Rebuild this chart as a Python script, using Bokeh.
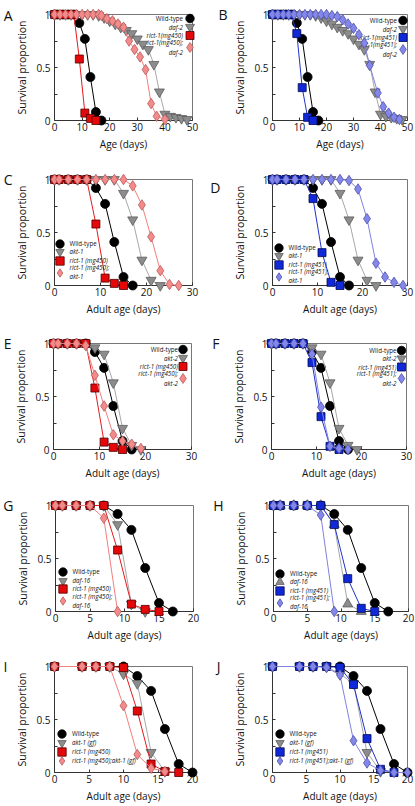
from bokeh.plotting import figure
from bokeh.models import (Range1d, LinearAxis, FixedTicker, Legend, LegendItem,
                          Label, ColumnDataSource)
from bokeh.core.properties import value
from bokeh.layouts import column, row
from bokeh.embed import file_html
from bokeh.resources import INLINE

# ------------------------------------------------------------------ data
wt_days = [0, 1, 3, 5, 7, 9, 11, 13, 15, 17]
wt_surv = [1, 1, 1, 1, 1, 0.92, 0.77, 0.41, 0.08, 0.0]
mg450_days = [0, 1, 3, 5, 7, 9, 11, 13, 15]
mg450_surv = [1, 1, 1, 1, 1, 0.58, 0.07, 0.02, 0.0]
mg451_days = [0, 1, 3, 5, 7, 9, 11, 13, 15]
mg451_surv = [1, 1, 1, 1, 1, 0.82, 0.31, 0.03, 0.0]

daf2_days = [0, 2, 4, 6, 8, 10, 12, 14, 16, 18, 20, 22, 24, 26, 28, 30, 32, 34, 36, 38, 40, 42, 44, 46, 48]
daf2_surv = [1, 1, 1, 1, 1, 1, 1, 1, 0.99, 0.97, 0.94, 0.91, 0.88, 0.85, 0.82, 0.77, 0.72, 0.67, 0.53, 0.27, 0.06, 0.04, 0.03, 0.02, 0.01]
mg450_daf2_days = [0, 2, 4, 6, 8, 10, 12, 14, 16, 17, 19, 21, 23, 25, 27, 29, 31, 33, 35, 37, 40]
mg450_daf2_surv = [1, 1, 1, 1, 1, 1, 1, 1, 1, 0.99, 0.96, 0.94, 0.91, 0.88, 0.75, 0.67, 0.6, 0.48, 0.16, 0.04, 0.01]
mg451_daf2_days = [0, 2, 4, 6, 8, 10, 12, 14, 16, 18, 20, 22, 24, 26, 28, 30, 32, 34, 36, 39, 41, 43, 45, 47]
mg451_daf2_surv = [1, 1, 1, 1, 1, 1, 1, 1, 1, 1, 1, 0.99, 0.98, 0.95, 0.91, 0.87, 0.81, 0.73, 0.52, 0.26, 0.13, 0.07, 0.03, 0.01]

akt1_days = [0, 1, 3, 5, 7, 9, 11, 13, 15, 17, 19, 21, 23]
akt1_surv = [1, 1, 1, 1, 1, 1, 1, 1, 0.87, 0.62, 0.24, 0.05, 0.0]
mg450_akt1_days = [0, 1, 3, 5, 7, 9, 11, 13, 15, 17, 19, 21, 23, 25, 27]
mg450_akt1_surv = [1, 1, 1, 1, 1, 1, 1, 1, 1, 0.94, 0.76, 0.46, 0.14, 0.01, 0.0]
mg451_akt1_days = [0, 1, 3, 5, 7, 9, 11, 13, 15, 17, 19, 21, 23, 25, 27, 29]
mg451_akt1_surv = [1, 1, 1, 1, 1, 1, 1, 1, 1, 0.99, 0.91, 0.63, 0.21, 0.08, 0.03, 0.0]

akt2_days = [0, 1, 3, 5, 7, 9, 11, 13, 15, 17, 19]
akt2_surv = [1, 1, 1, 1, 1, 0.96, 0.9, 0.63, 0.2, 0.04, 0.0]
mg450_akt2_days = [0, 1, 3, 5, 7, 9, 11, 13, 15, 17, 19]
mg450_akt2_surv = [1, 1, 1, 1, 0.98, 0.7, 0.41, 0.14, 0.08, 0.05, 0.01]
mg451_akt2_days = [0, 1, 3, 5, 7, 9, 11, 13, 15, 17]
mg451_akt2_surv = [1, 1, 1, 1, 1, 0.9, 0.4, 0.03, 0.01, 0.0]

daf16_days = [0, 1, 3, 5, 7, 9, 11, 13]
daf16_surv = [1, 1, 1, 1, 1, 0.82, 0.07, 0.0]
mg450_daf16_days = [0, 1, 3, 5, 7, 9]
mg450_daf16_surv = [1, 1, 1, 1, 0.88, 0.0]
mg451_daf16_days = [0, 1, 3, 5, 7, 9]
mg451_daf16_surv = [1, 1, 1, 1, 0.91, 0.0]

gf_wt_days = [0, 4, 6, 8, 10, 12, 14, 16, 18, 20]
gf_wt_surv = [1, 1, 1, 1, 1, 0.91, 0.77, 0.41, 0.08, 0.0]
akt1gf_days = [0, 4, 6, 8, 10, 12, 14, 16]
akt1gf_surv = [1, 1, 1, 1, 0.93, 0.84, 0.19, 0.01]
gf_mg450_days = [0, 4, 6, 8, 10, 12, 14, 16, 18]
gf_mg450_surv = [1, 1, 1, 1, 0.99, 0.58, 0.08, 0.01, 0.0]
mg450_akt1gf_days = [0, 4, 6, 8, 10, 12, 14, 16]
mg450_akt1gf_surv = [1, 1, 1, 1, 0.63, 0.17, 0.04, 0.01]
gf_mg451_days = [0, 4, 6, 8, 10, 12, 14, 16, 18]
gf_mg451_surv = [1, 1, 1, 1, 0.99, 0.83, 0.32, 0.03, 0.0]
mg451_akt1gf_days = [0, 4, 6, 8, 10, 12, 14, 16, 18, 20]
mg451_akt1gf_surv = [1, 1, 1, 0.99, 0.92, 0.3, 0.09, 0.02, 0.0, 0.0]

y_ticks = [0, 0.5, 1]
y_tick_labels = {0: "0", 0.5: "0.5", 1: "1"}
y_minor = [0.25, 0.75]
ticks50 = [0, 10, 20, 30, 40, 50]
ticks30 = [0, 10, 20, 30]
ticks20 = [0, 5, 10, 15, 20]

# ------------------------------------------------------------------ styles
FONT = "Open Sans"
STY = {
    "black": dict(fill="#000000", edge="#000000", line="#000000"),
    "gray": dict(fill="#8c8c8c", edge="#5c5c5c", line="#a8a8a8"),
    "red": dict(fill="#e4080a", edge="#4d0000", line="#e31a1c"),
    "pink": dict(fill="#f48b8b", edge="#b85a5a", line="#f27e7e"),
    "blue": dict(fill="#1028d8", edge="#000a50", line="#2233cc"),
    "peri": dict(fill="#8487ea", edge="#4f52a8", line="#7f82e0"),
}
MSIZE = {"circle": 9, "inverted_triangle": 10, "triangle": 10, "square": 8, "diamond": 10.5}
LSIZE = {"circle": 8.5, "inverted_triangle": 9, "triangle": 9, "square": 8, "diamond": 10}
LEG_FONT = "6.2px"

FH = 106
ROW_TB = [14, 26, 25, 23, 22]
BB = 32
COLS = [dict(lb=52, fw=138, rb=7), dict(lb=73, fw=135, rb=10)]
GB = 21  # legend glyph box

panels = [
    dict(letter="A", col=0, row=0, xmax=50, xticks=ticks50, xlabel="Age (days)",
         series=[(wt_days, wt_surv, "black", "circle", "Wild-type"),
                 (daf2_days, daf2_surv, "gray", "inverted_triangle", "daf-2"),
                 (mg450_days, mg450_surv, "red", "square", "rict-1(mg450)"),
                 (mg450_daf2_days, mg450_daf2_surv, "pink", "diamond", "rict-1(mg450);\ndaf-2")],
         leg=("right", 2.5, 7, [4, 12.5, 21, 33]), let=(0, 1)),
    dict(letter="B", col=1, row=0, xmax=50, xticks=ticks50, xlabel="Age (days)",
         series=[(wt_days, wt_surv, "black", "circle", "Wild-type"),
                 (daf2_days, daf2_surv, "gray", "inverted_triangle", "daf-2"),
                 (mg451_days, mg451_surv, "blue", "square", "rict-1(mg451)"),
                 (mg451_daf2_days, mg451_daf2_surv, "peri", "diamond", "rict-1(mg451);\ndaf-2")],
         leg=("right", 4.5, 6, [6, 14.5, 23, 35]), let=(3, 0)),
    dict(letter="C", col=0, row=1, xmax=30, xticks=ticks30, xlabel="Adult age (days)",
         series=[(wt_days, wt_surv, "black", "circle", "Wild-type"),
                 (akt1_days, akt1_surv, "gray", "inverted_triangle", "akt-1"),
                 (mg450_days, mg450_surv, "red", "square", "rict-1 (mg450)"),
                 (mg450_akt1_days, mg450_akt1_surv, "pink", "diamond", "rict-1 (mg450);\nakt-1")],
         leg=("left", 5, 5, [42, 33.5, 25, 13]), let=(0, 0)),
    dict(letter="D", col=1, row=1, xmax=30, xticks=ticks30, xlabel="Adult age (days)",
         series=[(wt_days, wt_surv, "black", "circle", "Wild-type"),
                 (akt1_days, akt1_surv, "gray", "inverted_triangle", "akt-1"),
                 (mg451_days, mg451_surv, "blue", "square", "rict-1 (mg451)"),
                 (mg451_akt1_days, mg451_akt1_surv, "peri", "diamond", "rict-1 (mg451);\nakt-1")],
         leg=("left", 6, 5.5, [38, 29.5, 21, 9]), let=(10, 8)),
    dict(letter="E", col=0, row=2, xmax=30, xticks=ticks30, xlabel="Adult age (days)",
         series=[(wt_days, wt_surv, "black", "circle", "Wild-type"),
                 (akt2_days, akt2_surv, "gray", "inverted_triangle", "akt-2"),
                 (mg450_days, mg450_surv, "red", "square", "rict-1 (mg450)"),
                 (mg450_akt2_days, mg450_akt2_surv, "pink", "diamond", "rict-1 (mg450);\nakt-2")],
         leg=("right", 8.5, 5, [6, 14.5, 23, 35]), let=(0, 0)),
    dict(letter="F", col=1, row=2, xmax=30, xticks=ticks30, xlabel="Adult age (days)",
         series=[(wt_days, wt_surv, "black", "circle", "Wild-type"),
                 (akt2_days, akt2_surv, "gray", "inverted_triangle", "akt-2"),
                 (mg451_days, mg451_surv, "blue", "square", "rict-1 (mg451)"),
                 (mg451_akt2_days, mg451_akt2_surv, "peri", "diamond", "rict-1 (mg451);\nakt-2")],
         leg=("right", 5, 5, [7, 15, 23.5, 35]), let=(10, 0)),
    dict(letter="G", col=0, row=3, xmax=20, xticks=ticks20, xlabel="Adult age (days)",
         series=[(wt_days, wt_surv, "black", "circle", "Wild-type"),
                 (daf16_days, daf16_surv, "gray", "inverted_triangle", "daf-16"),
                 (mg450_days, mg450_surv, "red", "square", "rict-1 (mg450)"),
                 (mg450_daf16_days, mg450_daf16_surv, "pink", "diamond", "rict-1 (mg450);\ndaf-16")],
         leg=("left", 7, 4.5, [39.5, 31, 22.5, 10.5]), let=(0, 0)),
    dict(letter="H", col=1, row=3, xmax=20, xticks=ticks20, xlabel="Adult age (days)",
         series=[(wt_days, wt_surv, "black", "circle", "Wild-type"),
                 (daf16_days, daf16_surv, "gray", "triangle", "daf-16"),
                 (mg451_days, mg451_surv, "blue", "square", "rict-1 (mg451)"),
                 (mg451_daf16_days, mg451_daf16_surv, "peri", "diamond", "rict-1 (mg451);\ndaf-16")],
         leg=("left", 6.5, 4, [38, 29.5, 21, 9]), let=(8, 0)),
    dict(letter="I", col=0, row=4, xmax=20, xticks=ticks20, xlabel="Adult age (days)",
         series=[(gf_wt_days, gf_wt_surv, "black", "circle", "Wild-type"),
                 (akt1gf_days, akt1gf_surv, "gray", "inverted_triangle", "akt-1 (gf)"),
                 (gf_mg450_days, gf_mg450_surv, "red", "square", "rict-1 (mg450)"),
                 (mg450_akt1gf_days, mg450_akt1gf_surv, "pink", "diamond", "rict-1 (mg450);akt-1 (gf)")],
         leg=("left", 7.5, 5, [38.5, 29.5, 20.5, 11.5]), let=(5, 0)),
    dict(letter="J", col=1, row=4, xmax=20, xticks=ticks20, xlabel="Adult age (days)",
         series=[(gf_wt_days, gf_wt_surv, "black", "circle", "Wild-type"),
                 (akt1gf_days, akt1gf_surv, "gray", "inverted_triangle", "akt-1 (gf)"),
                 (gf_mg451_days, gf_mg451_surv, "blue", "square", "rict-1 (mg451)"),
                 (mg451_akt1gf_days, mg451_akt1gf_surv, "peri", "diamond", "rict-1 (mg451);akt-1 (gf)")],
         leg=("left", 7, 5, [38.5, 29.5, 20.5, 11.5]), let=(10, 0)),
]


def style_axis(ax):
    ax.major_tick_in = 3
    ax.major_tick_out = 0
    ax.minor_tick_in = 3
    ax.minor_tick_out = 0
    ax.axis_line_color = "#333333"
    ax.major_tick_line_color = "#333333"
    ax.minor_tick_line_color = "#333333"
    ax.major_label_text_font = FONT
    ax.major_label_text_font_size = "10px"
    ax.major_label_text_color = "#111111"
    ax.axis_label_text_font = FONT
    ax.axis_label_text_font_style = "normal"
    ax.axis_label_text_color = "#111111"


def make_panel(pd):
    c = COLS[pd["col"]]
    fw = c["fw"]
    p = figure(frame_width=fw, frame_height=FH,
               min_border_left=c["lb"], min_border_right=c["rb"],
               min_border_top=ROW_TB[pd["row"]], min_border_bottom=BB,
               x_range=Range1d(0, pd["xmax"]), y_range=Range1d(0, 1),
               output_backend="svg", toolbar_location=None, tools="")
    p.xgrid.visible = False
    p.ygrid.visible = False
    p.outline_line_color = "#777777"
    p.outline_line_width = 1

    xa = p.xaxis[0]
    ya = p.yaxis[0]
    style_axis(xa)
    style_axis(ya)
    xa.ticker = FixedTicker(ticks=pd["xticks"])
    ya.ticker = FixedTicker(ticks=y_ticks, minor_ticks=y_minor)
    ya.major_label_overrides = y_tick_labels
    xa.axis_label = pd["xlabel"]
    xa.axis_label_text_font_size = "10px"
    xa.major_label_standoff = 2
    xa.axis_label_standoff = 3
    ya.axis_label = "Survival proportion"
    ya.axis_label_text_font_size = "10.5px"
    ya.major_label_standoff = 4
    ya.axis_label_standoff = 4

    # panel letter, drawn as the single tick label of an outer left axis
    standoff, drop = pd["let"]
    p.extra_y_ranges = {"letter": Range1d(0, FH)}
    la = LinearAxis(y_range_name="letter",
                    ticker=FixedTicker(ticks=[FH - drop]),
                    major_label_overrides={FH - drop: pd["letter"]})
    la.axis_line_color = None
    la.major_tick_line_color = None
    la.minor_tick_line_color = None
    la.major_tick_in = 0
    la.major_tick_out = 0
    la.major_label_standoff = standoff
    la.major_label_text_font = FONT
    la.major_label_text_font_size = "14px"
    la.major_label_text_color = "#111111"
    p.add_layout(la, "left")

    side, mxo, gap, rows = pd["leg"]
    for (days, surv, col, marker, label), rd in zip(pd["series"], rows):
        st = STY[col]
        src = ColumnDataSource(dict(x=days, y=surv))
        p.line("x", "y", source=src, line_color=st["line"], line_width=1, level="overlay")
        sr = p.scatter("x", "y", source=src, marker=marker, size=MSIZE[marker],
                       fill_color=st["fill"], line_color=st["edge"], line_width=0.8,
                       level="overlay")
        fstyle = "normal" if label == "Wild-type" else "italic"
        if side == "right":
            # text first, then the symbol at the right edge of the frame
            mx = fw - mxo
            my = FH - rd
            p.scatter(x=[pd["xmax"] * mx / fw], y=[my / FH], marker=marker,
                      size=LSIZE[marker], fill_color=st["fill"], line_color=st["edge"],
                      line_width=0.8, level="overlay")
            p.add_layout(Label(x=mx - gap, y=my, x_units="screen", y_units="screen",
                               text=label, text_align="right", text_baseline="middle",
                               text_font=FONT, text_font_size=LEG_FONT,
                               text_font_style=fstyle, text_line_height=1.1,
                               text_color="#111111"))
        else:
            leg = Legend(items=[LegendItem(label=value(label), renderers=[sr])],
                         location=(mxo - GB / 2, rd - GB / 2),
                         glyph_width=GB, glyph_height=GB, label_height=GB, label_width=0,
                         padding=0, margin=0, spacing=0,
                         label_standoff=int(round(gap - GB / 2)),
                         label_text_font=FONT, label_text_font_size=LEG_FONT,
                         label_text_font_style=fstyle, label_text_line_height=1.1,
                         label_text_color="#111111",
                         border_line_color=None, background_fill_alpha=0)
            p.add_layout(leg)
    return p


figs = [make_panel(pd) for pd in panels]
layout = column(*[row(figs[2 * i], figs[2 * i + 1]) for i in range(5)])

open("out.html", "w").write(file_html(layout, INLINE))
